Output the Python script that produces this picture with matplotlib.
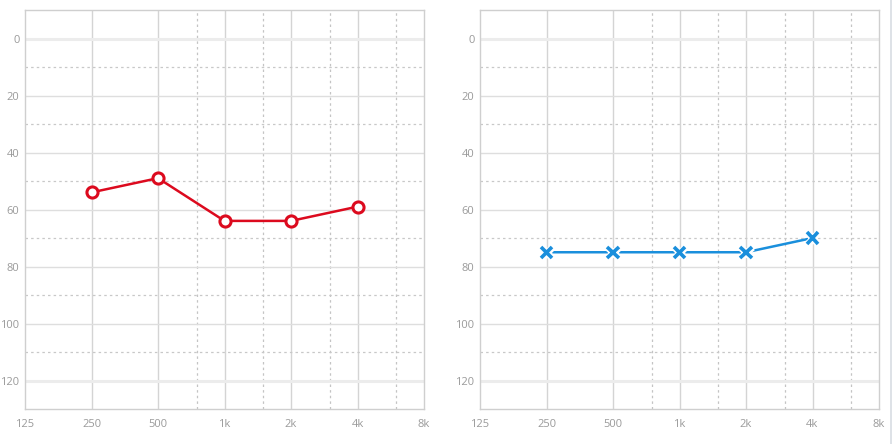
import matplotlib.pyplot as plt
import matplotlib.patheffects as pe
from matplotlib.lines import Line2D

plt.rcParams['font.family'] = ['Open Sans', 'DejaVu Sans']

# frequencies (Hz) and tick labels
freq_ticks = [125, 250, 500, 1000, 2000, 4000, 8000]
freq_labels = ['125', '250', '500', '1k', '2k', '4k', '8k']
half_octaves = [750, 1500, 3000, 6000]

# hearing levels (dB)
test_freqs = [250, 500, 1000, 2000, 4000]
left_ear = [54, 49, 64, 64, 59]
right_ear = [75, 75, 75, 75, 70]

db_major = [0, 20, 40, 60, 80, 100, 120]
db_minor = [10, 30, 50, 70, 90, 110]

W, H = 894, 444
fig = plt.figure(figsize=(W / 100, H / 100), dpi=100)

grid_c = '#d4d4d4'
text_c = '#9a9a9a'


def setup(ax):
    ax.set_xscale('log', base=2)
    ax.set_xlim(125, 8000)
    ax.set_ylim(130, -10)
    ax.set_xticks(freq_ticks)
    ax.set_xticklabels(freq_labels)
    ax.minorticks_off()
    ax.set_yticks(db_major)
    ax.tick_params(length=0, labelsize=8, colors=text_c)
    ax.tick_params(axis='x', pad=7)
    ax.tick_params(axis='y', pad=4)
    for s in ax.spines.values():
        s.set_color('#cfcfcf')
        s.set_linewidth(1)
    for f in freq_ticks[1:-1]:
        ax.axvline(f, color=grid_c, lw=1, zorder=0)
    for f in half_octaves:
        ax.axvline(f, color='#c4c4c4', lw=0.9, ls=(0, (2, 2.5)), zorder=0)
    for d in db_major:
        if d in (0, 120):
            ax.axhline(d, color='#ececec', lw=2.2, zorder=0)
        else:
            ax.axhline(d, color='#dedede', lw=1, zorder=0)
    for d in db_minor:
        ax.axhline(d, color='#c8c8c8', lw=0.9, ls=(0, (2, 2.5)), zorder=0)


ax1 = fig.add_axes([25 / W, 1 - 409 / H, 399 / W, 399 / H])
setup(ax1)
ax1.plot(test_freqs, left_ear, color='#dc0a1e', lw=1.8, marker='o', ms=8,
         mfc='white', mec='#dc0a1e', mew=2.2, zorder=3)

ax2 = fig.add_axes([480 / W, 1 - 409 / H, 399 / W, 399 / H])
setup(ax2)
ax2.plot(test_freqs, right_ear, color='#1a8fdc', lw=1.8, zorder=3)
ax2.plot(test_freqs, right_ear, ls='none', marker='x', ms=8, mew=2.6,
         color='#1a8fdc', zorder=4,
         path_effects=[pe.Stroke(linewidth=5, foreground='white'), pe.Normal()])

fig.add_artist(Line2D([890.5 / W, 890.5 / W], [0, 1], color='#d8dde3', lw=1.2))

fig.savefig('out.png', dpi=100)
